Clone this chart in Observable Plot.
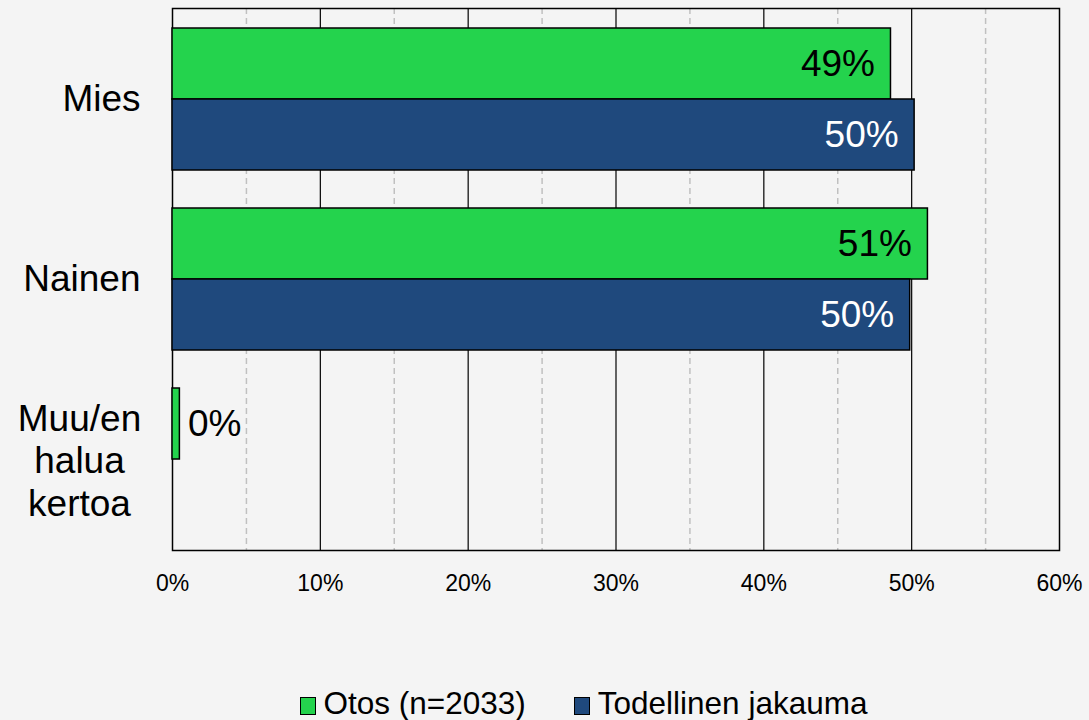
<!DOCTYPE html>
<html>
<head>
<meta charset="utf-8">
<script src="https://cdn.jsdelivr.net/npm/d3@7"></script>
<script src="https://cdn.jsdelivr.net/npm/@observablehq/plot@0.6"></script>
<style>
  html, body { margin: 0; padding: 0; background: #f4f4f4; }
  body { width: 1089px; height: 720px; overflow: hidden; font-family: "Liberation Sans", Arial, sans-serif; }
  #legend { height: 60px; display: flex; justify-content: center; align-items: center; gap: 48px; font-size: 31.5px; color: #000; padding-top: 27px; box-sizing: border-box; padding-left: 78px; }
  .item { display: flex; align-items: center; gap: 8px; }
  .sw { width: 14px; height: 16px; border: 1.5px solid #000; display: inline-block; margin-top: 4px; }
</style>
</head>
<body>
<div id="chart"></div>
<div id="legend"></div>
<script>
const categories = ["Mies", "Nainen", "Muu/en halua kertoa"];
const categoryLabels = ["Mies", "Nainen", "Muu/en\nhalua\nkertoa"];
const seriesNames = ["Otos (n=2033)", "Todellinen jakauma"];
const seriesColors = ["#24d34d", "#1f497d"];
const otos = [48.6, 51.1, 0.5];
const todellinen = [50.2, 49.9, null];
const otosLabels = ["49%", "51%", "0%"];
const todLabels = ["50%", "50%", ""];
const xTicks = [0, 10, 20, 30, 40, 50, 60];
const minorTicks = [5, 15, 25, 35, 45, 55];

const otosData = categories.map((c, i) => ({category: c, value: otos[i], label: otosLabels[i]}));
const todData = categories.map((c, i) => ({category: c, value: todellinen[i], label: todLabels[i]})).filter(d => d.value != null);
const catData = categories.map((c, i) => ({category: c, label: categoryLabels[i]}));

const half = 71;

const chart = Plot.plot({
  width: 1089,
  height: 660,
  marginLeft: 172,
  marginRight: 30,
  marginTop: 8,
  marginBottom: 110,
  style: {background: "#f4f4f4", fontFamily: "'Liberation Sans', Arial, sans-serif", color: "#000"},
  x: {domain: [0, 60], ticks: xTicks, tickFormat: d => d + "%"},
  y: {domain: categories, paddingInner: 0.21, paddingOuter: 0.11, axis: null},
  marks: [
    Plot.ruleX(minorTicks, {stroke: "#c0c0c0", strokeWidth: 1.5, strokeDasharray: "6,4"}),
    Plot.ruleX(xTicks.filter(t => t > 0 && t < 60), {stroke: "#000", strokeWidth: 1.2}),
    Plot.frame({stroke: "#000", strokeWidth: 1.5}),
    Plot.barX(otosData, {x: "value", y: "category", fill: seriesColors[0], stroke: "#000", strokeWidth: 1.5, insetBottom: half}),
    Plot.barX(todData, {x: "value", y: "category", fill: seriesColors[1], stroke: "#000", strokeWidth: 1.5, insetTop: half}),
    Plot.text(otosData.filter(d => d.value > 5), {x: "value", y: "category", text: "label", dy: -half / 2, dx: -16, textAnchor: "end", fontSize: 37, fill: "#000"}),
    Plot.text(otosData.filter(d => d.value <= 5), {x: "value", y: "category", text: "label", dy: -half / 2, dx: 8, textAnchor: "start", fontSize: 37, fill: "#000"}),
    Plot.text(todData, {x: "value", y: "category", text: "label", dy: half / 2, dx: -16, textAnchor: "end", fontSize: 37, fill: "#fff"}),
    Plot.text(catData.filter(d => !d.label.includes("\n")), {y: "category", text: "label", frameAnchor: "left", dx: -32, textAnchor: "end", fontSize: 37, fill: "#000"}),
    Plot.text(catData.filter(d => d.label.includes("\n")), {y: "category", text: "label", frameAnchor: "left", dx: -93, textAnchor: "middle", lineHeight: 1.15, fontSize: 37, fill: "#000"}),
    Plot.axisX({ticks: xTicks, tickFormat: d => d + "%", tickSize: 0, tickPadding: 24, fontSize: 23, label: null})
  ]
});
document.getElementById("chart").append(chart);

const legend = document.getElementById("legend");
seriesNames.forEach((n, i) => {
  const item = document.createElement("span");
  item.className = "item";
  const sw = document.createElement("span");
  sw.className = "sw";
  sw.style.background = seriesColors[i];
  const t = document.createElement("span");
  t.textContent = n;
  item.append(sw, t);
  legend.append(item);
});
</script>
</body>
</html>
